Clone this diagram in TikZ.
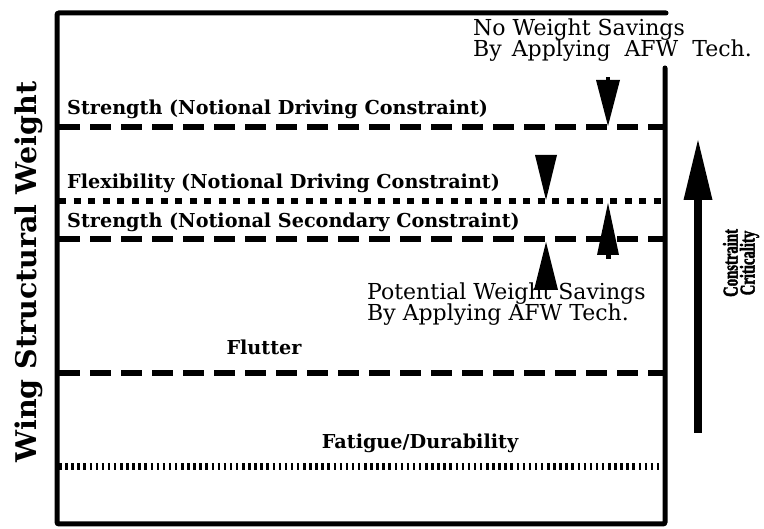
\documentclass[tikz,border=0pt]{standalone}
\usepackage{fontspec}
\setmainfont{DejaVu Serif}
\newfontfamily\critfont[BoldFeatures={FakeBold=2.5}]{Liberation Serif}
\begin{document}
\begin{tikzpicture}[x=1pt,y=-1pt,
  frame/.style={line width=5pt, rounded corners=2pt, line cap=round},
  dashln/.style={line width=6.5pt, dash pattern=on 21pt off 10pt},
  dotln/.style={line width=6.5pt, dash pattern=on 7pt off 7.5pt},
  fineln/.style={line width=7pt, dash pattern=on 2.5pt off 3.6pt},
  lbl/.style={font=\fontsize{19.2}{20}\selectfont\bfseries, inner sep=0pt, anchor=base west},
  note/.style={font=\fontsize{22}{22}\selectfont, inner sep=0pt, anchor=base west},
  tri/.style={fill=black}
]
\useasboundingbox (0,0) rectangle (764,529);
\coordinate (fa) at (665,68); \coordinate (fb) at (665,524);
\coordinate (fc) at (57,524); \coordinate (fd) at (57,13); \coordinate (fe) at (666,13);
\draw[frame] (fa) -- (fb) -- (fc) -- (fd) -- (fe);
% constraint lines
\coordinate (s1l) at (59,127); \coordinate (s1r) at (663,127);
\coordinate (fxl) at (59,201); \coordinate (fxr) at (663,201);
\coordinate (s2l) at (59,239); \coordinate (s2r) at (663,239);
\coordinate (ful) at (59,373); \coordinate (fur) at (663,373);
\coordinate (fal) at (59,467); \coordinate (far) at (663,467);
\draw[dashln] (s1l) -- (s1r);
\draw[dotln] (fxl) -- (fxr);
\draw[dashln] (s2l) -- (s2r);
\draw[dashln] (ful) -- (fur);
\draw[fineln] (fal) -- (far);
% labels
\node[lbl] (ls1) at (67,115) {Strength (Notional Driving Constraint)};
\node[lbl] (lfx) at (67,189) {Flexibility (Notional Driving Constraint)};
\node[lbl] (ls2) at (67,228) {Strength (Notional Secondary Constraint)};
\node[lbl, anchor=base] (lfu) at (264,355) {Flutter};
\node[lbl, anchor=base] (lfa) at (420,449) {Fatigue/Durability};
% annotations
\node[note] (nows1) at (473,36) {No Weight Savings};
\node[note] (nows2) at (473,57) {By\hspace{3pt} Applying\hspace{7pt} AFW\hspace{7pt} Tech.};
\node[note] (pows1) at (367,300) {Potential Weight Savings};
\node[note] (pows2) at (367,321) {By Applying AFW Tech.};
% triangles
\fill[tri] (596,80) -- (620,80) -- (608,126) -- cycle;
\fill[tri] (606,77) rectangle (610,81);
\fill[tri] (535,155) -- (557,155) -- (546,200) -- cycle;
\fill[tri] (608,203) -- (619,255) -- (597,255) -- cycle;
\fill[tri] (605.5,254) rectangle (610.5,259);
\fill[tri] (546,242) -- (558,290) -- (534,290) -- cycle;
% criticality arrow
\coordinate (ca) at (698,433); \coordinate (cb) at (698,198);
\draw[line width=8pt] (ca) -- (cb);
\fill (683.5,200) -- (698,140) -- (712.5,200) -- cycle;
\node[font=\critfont\fontsize{21}{17}\selectfont\bfseries, rotate=90, align=center, inner sep=0pt] (crit) at (741,263) {\scalebox{0.7}[1]{Constraint}\\\scalebox{0.7}[1]{Criticality}};
\node[font=\fontsize{28.5}{28.5}\selectfont\bfseries, rotate=90, inner sep=0pt] (wsw) at (29,272) {Wing Structural Weight};
\end{tikzpicture}
\end{document}
